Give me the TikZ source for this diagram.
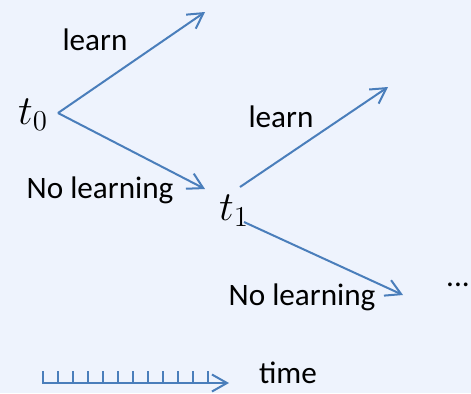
\documentclass[tikz,border=0pt]{standalone}
\usepackage{fontspec}
\setmainfont{Carlito}
\usetikzlibrary{arrows.meta}
\definecolor{bgc}{RGB}{238,243,253}
\definecolor{linec}{RGB}{74,126,187}
\begin{document}
\begin{tikzpicture}[x=0.5pt,y=-0.5pt,
  conn/.style={draw=linec,line width=1pt,-{Straight Barb[length=7.5pt,width=8.5pt,line width=1pt]}},
  tick/.style={draw=linec,line width=0.8pt},
  lbl/.style={inner sep=0pt,font=\fontsize{15.6}{18}\selectfont},
  tnode/.style={inner sep=0pt,font=\fontsize{21}{24}\selectfont}]
\fill[bgc] (0,0) rectangle (471,393);
\useasboundingbox (0,0) rectangle (471,393);
\node[tnode,anchor=base] (t0) at (33,124) {$t_0$};
\node[tnode,anchor=base] (t1) at (234,220) {$t_1$};
\coordinate (s0) at (58,113);
\coordinate (e0u) at (205,12);
\coordinate (e0d) at (205,189);
\coordinate (s1u) at (240,187);
\coordinate (s1d) at (244,222);
\coordinate (e1u) at (388,87);
\coordinate (e1d) at (403,295);
\draw[conn] (s0) -- (e0u);
\draw[conn] (s0) -- (e0d);
\draw[conn] (s1u) -- (e1u);
\draw[conn] (s1d) -- (e1d);
\node[lbl] (l0) at (95,40) {learn};
\node[lbl] (n0) at (100,190) {No learning};
\node[lbl] (l1) at (281,117) {learn};
\node[lbl] (n1) at (302,297) {No learning};
\node[lbl] (dots) at (458,285) {...};
\coordinate (ta) at (42,383);
\coordinate (tb) at (229,383);
\draw[conn] (ta) -- (tb);
\foreach \i in {0,...,11} {
  \draw[tick] (43+15*\i,383) -- (43+15*\i,371);
}
\node[lbl] (time) at (288,373) {time};
\end{tikzpicture}
\end{document}
